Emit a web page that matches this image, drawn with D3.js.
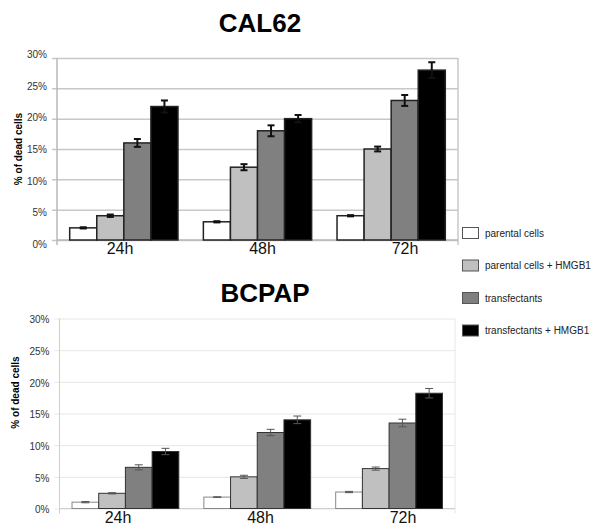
<!DOCTYPE html>
<html>
<head>
<meta charset="utf-8">
<script src="https://cdn.jsdelivr.net/npm/d3@7"></script>
<style>
  body { margin: 0; background: #fff; }
  svg { display: block; font-family: "Liberation Sans", Arial, sans-serif; }
</style>
</head>
<body>
<div id="chart"></div>
<script>
var categories = ["24h", "48h", "72h"];
var seriesNames = ["parental cells", "parental cells + HMGB1", "transfectants", "transfectants + HMGB1"];
var yTicks = [0, 5, 10, 15, 20, 25, 30];

// one row per series, one value per time point (%)
var cal62Values = [
    [2.0, 3.0, 4.0],
    [4.0, 12.0, 15.0],
    [16.0, 18.0, 23.0],
    [22.0, 20.0, 28.0]
];
var cal62Errors = [
    [0.1, 0.1, 0.1],
    [0.2, 0.5, 0.4],
    [0.65, 0.9, 0.9],
    [1.0, 0.6, 1.3]
];
var bcpapValues = [
    [1.0, 1.8, 2.6],
    [2.4, 5.0, 6.3],
    [6.5, 12.0, 13.5],
    [9.0, 14.0, 18.2]
];
var bcpapErrors = [
    [0.1, 0.05, 0.1],
    [0.1, 0.25, 0.25],
    [0.4, 0.5, 0.6],
    [0.5, 0.6, 0.75]
];

var fills = ["#ffffff", "#c0c0c0", "#808080", "#000000"];

var width = 591, height = 531;
var svg = d3.select("#chart").append("svg")
    .attr("width", width)
    .attr("height", height);

function drawPanel(p) {
    var x0 = d3.scaleBand()
        .domain(categories)
        .range([p.left, p.right])
        .paddingInner(0.19)
        .paddingOuter(0.095);
    var x1 = d3.scaleBand()
        .domain(d3.range(seriesNames.length))
        .range([0, x0.bandwidth()]);
    var y = d3.scaleLinear().domain([0, 30]).range([p.bottom, p.top]);
    var yLab = d3.scaleLinear().domain([0, 30]).range(p.labelRange);
    var xLab = d3.scalePoint().domain(categories).range(p.catRange);

    var g = svg.append("g");

    // gridlines
    g.append("g")
        .attr("transform", "translate(" + p.left + ",0)")
        .call(d3.axisLeft(y).tickValues(yTicks).tickSize(-(p.right - p.left) - 5).tickFormat(""))
        .call(function (a) {
            a.select(".domain").remove();
            a.selectAll("line").attr("transform", "translate(-5,0)")
                .attr("stroke", p.gridColor).attr("stroke-width", p.gridWidth);
        });

    // frame
    g.append("line").attr("x1", p.left).attr("x2", p.left).attr("y1", p.top).attr("y2", p.bottom + 5)
        .attr("stroke", p.axisColor).attr("stroke-width", p.gridWidth);
    g.append("line").attr("x1", p.right).attr("x2", p.right).attr("y1", p.top).attr("y2", p.bottom + 5)
        .attr("stroke", p.gridColor).attr("stroke-width", p.gridWidth);
    g.append("line").attr("x1", p.left).attr("x2", p.right).attr("y1", p.bottom).attr("y2", p.bottom)
        .attr("stroke", p.axisColor).attr("stroke-width", p.gridWidth);

    // tick labels
    g.append("g")
        .attr("transform", "translate(" + (p.left - 7) + ",0)")
        .call(d3.axisLeft(yLab).tickValues(yTicks).tickSize(0).tickFormat(function (d) { return d + "%"; }))
        .call(function (a) {
            a.select(".domain").remove();
            a.selectAll("text").attr("font-size", 10).attr("fill", "#333")
                .attr("font-family", "Liberation Sans, Arial, sans-serif");
        });

    // bars
    seriesNames.forEach(function (name, i) {
        var vals = p.values[i], errs = p.errors[i];
        g.selectAll(".bar" + i)
            .data(categories)
            .enter().append("rect")
            .attr("x", function (c) { return x0(c) + x1(i); })
            .attr("y", function (c, j) { return y(vals[j]); })
            .attr("width", x1.bandwidth())
            .attr("height", function (c, j) { return p.bottom - y(vals[j]); })
            .attr("fill", fills[i])
            .attr("stroke", i == 0 ? p.whiteStroke : p.barStroke)
            .attr("stroke-width", p.barStrokeWidth);

        var eg = g.selectAll(".err" + i)
            .data(categories)
            .enter().append("g")
            .attr("stroke", p.errColor)
            .attr("stroke-width", p.errWidth);
        var cx = function (c) { return x0(c) + x1(i) + x1.bandwidth() / 2; };
        eg.append("line")
            .attr("x1", cx).attr("x2", cx)
            .attr("y1", function (c, j) { return y(vals[j] - errs[j]); })
            .attr("y2", function (c, j) { return y(vals[j] + errs[j]); });
        [-1, 1].forEach(function (s) {
            eg.append("line")
                .attr("x1", function (c) { return cx(c) - p.cap; })
                .attr("x2", function (c) { return cx(c) + p.cap; })
                .attr("y1", function (c, j) { return y(vals[j] + s * errs[j]); })
                .attr("y2", function (c, j) { return y(vals[j] + s * errs[j]); });
        });
    });

    // category labels
    g.selectAll(".cat")
        .data(categories)
        .enter().append("text")
        .attr("x", function (c) { return xLab(c); })
        .attr("y", p.catY)
        .attr("text-anchor", "middle")
        .attr("font-size", 16)
        .attr("fill", "#111")
        .text(function (c) { return c; });

    // title
    g.append("text")
        .attr("x", p.titleX).attr("y", p.titleY)
        .attr("text-anchor", "middle")
        .attr("font-size", 26)
        .attr("font-weight", "bold")
        .text(p.title);

    // y axis title
    g.append("text")
        .attr("transform", "translate(" + p.ylabX + "," + p.ylabY + ")rotate(-90)")
        .attr("text-anchor", "middle")
        .attr("dy", "0.35em")
        .attr("font-size", 10)
        .attr("font-weight", "bold")
        .text("% of dead cells");
}

drawPanel({
    title: "CAL62", titleX: 260, titleY: 32,
    values: cal62Values, errors: cal62Errors,
    left: 57, right: 458, top: 58, bottom: 240,
    labelRange: [244, 54.5], catRange: [120, 405], catY: 254,
    ylabX: 18, ylabY: 149,
    gridColor: "#c8c8c8", axisColor: "#b8b8b8", gridWidth: 1.5,
    barStroke: "#222", whiteStroke: "#222", barStrokeWidth: 1.5,
    errColor: "#111", errWidth: 2, cap: 3.5
});

drawPanel({
    title: "BCPAP", titleX: 265, titleY: 301.5,
    values: bcpapValues, errors: bcpapErrors,
    left: 59.5, right: 455, top: 318.5, bottom: 508.5,
    labelRange: [509.5, 319.5], catRange: [118, 403], catY: 523,
    ylabX: 15, ylabY: 392.5,
    gridColor: "#e6e6e6", axisColor: "#cfcfcf", gridWidth: 1,
    barStroke: "#333", whiteStroke: "#888", barStrokeWidth: 1,
    errColor: "#555", errWidth: 1, cap: 4
});

// legend
var legendY = d3.scalePoint().domain(seriesNames).range([233, 330.5]);
var lg = svg.append("g");
lg.selectAll("rect")
    .data(seriesNames)
    .enter().append("rect")
    .attr("x", 462.5)
    .attr("y", function (d) { return legendY(d) - 5.5; })
    .attr("width", 16)
    .attr("height", 11)
    .attr("fill", function (d, i) { return fills[i]; })
    .attr("stroke", "#555")
    .attr("stroke-width", 1);
lg.selectAll("text")
    .data(seriesNames)
    .enter().append("text")
    .attr("x", 485)
    .attr("y", function (d) { return legendY(d); })
    .attr("dy", "0.35em")
    .attr("font-size", 10)
    .attr("fill", "#222")
    .text(function (d) { return d; });
</script>
</body>
</html>
